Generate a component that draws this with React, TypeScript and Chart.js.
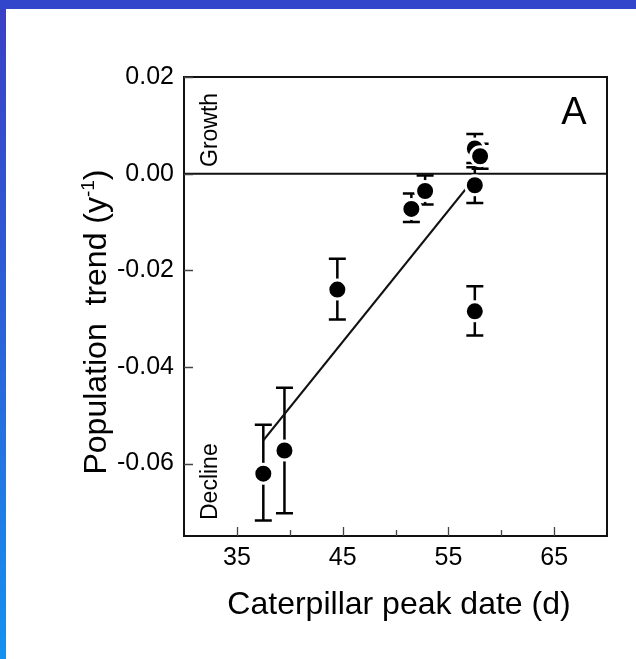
import { useEffect, useRef } from "react";
import { Chart, registerables } from "chart.js";

Chart.register(...registerables);

// ---- data ----
const peakDates = [37.5, 39.5, 44.5, 51.5, 52.8, 57.5, 57.5, 58.0, 57.5];
const trends = [-0.0621, -0.0573, -0.024, -0.0073, -0.0036, -0.0024, 0.0052, 0.0036, -0.0285];
const trendHigh = [-0.052, -0.0443, -0.0176, -0.0041, -0.0004, 0.0013, 0.0082, 0.0062, -0.0233];
const trendLow = [-0.0718, -0.0703, -0.0302, -0.01, -0.0064, -0.0061, 0.0022, 0.001, -0.0335];
const fitDates = [37.5, 57.7];
const fitTrends = [-0.0552, -0.0003];
const xMajorTicks = [35, 45, 55, 65];
const xMinorTicks = [40, 50, 60];
const yTicks = [0.02, 0, -0.02, -0.04, -0.06];
const xRange = [30, 70];
const yRange = [-0.075, 0.02];
const xTitle = "Caterpillar peak date (d)";
const yTitleMain = "Population  trend (y";
const yTitleSup = "-1";
const yTitleEnd = ")";
const upperNote = "Growth";
const lowerNote = "Decline";
const panelLetter = "A";

const FONT = "Arial, 'Liberation Sans', sans-serif";

const decor = {
  id: "decor",
  beforeDraw(chart: any) {
    const { ctx, width, height } = chart;
    ctx.save();
    const g = ctx.createLinearGradient(0, 0, 0, height);
    g.addColorStop(0, "#3a3fc4");
    g.addColorStop(0.5, "#2b62d8");
    g.addColorStop(1, "#1592f0");
    ctx.fillStyle = g;
    ctx.fillRect(0, 0, width, height);
    ctx.fillStyle = "#3246cb";
    ctx.fillRect(0, 0, width, 9);
    ctx.fillStyle = "#ffffff";
    ctx.fillRect(6, 9, width - 6, height - 9);
    ctx.restore();
  },
  beforeDatasetsDraw(chart: any) {
    const { ctx, chartArea: a, scales } = chart;
    const x = scales.x;
    const y = scales.y;
    ctx.save();
    ctx.strokeStyle = "#111";
    ctx.lineWidth = 2;
    const y0 = y.getPixelForValue(0);
    ctx.beginPath();
    ctx.moveTo(a.left, y0);
    ctx.lineTo(a.right, y0);
    ctx.stroke();
    ctx.lineWidth = 2.5;
    ctx.strokeStyle = "#000";
    for (let i = 0; i < peakDates.length; i++) {
      const px = x.getPixelForValue(peakDates[i]);
      const ph = y.getPixelForValue(trendHigh[i]);
      const pl = y.getPixelForValue(trendLow[i]);
      ctx.beginPath();
      ctx.moveTo(px, ph);
      ctx.lineTo(px, pl);
      ctx.moveTo(px - 8.5, ph);
      ctx.lineTo(px + 8.5, ph);
      ctx.moveTo(px - 8.5, pl);
      ctx.lineTo(px + 8.5, pl);
      ctx.stroke();
    }
    ctx.restore();
  },
  afterDraw(chart: any) {
    const { ctx, chartArea: a, scales } = chart;
    const x = scales.x;
    const y = scales.y;
    ctx.save();
    // box
    ctx.strokeStyle = "#111";
    ctx.lineWidth = 2;
    ctx.strokeRect(a.left, a.top, a.right - a.left, a.bottom - a.top);
    // inward ticks
    ctx.lineWidth = 1.3;
    ctx.strokeStyle = "#444";
    ctx.beginPath();
    for (const v of xMajorTicks) {
      const px = Math.round(x.getPixelForValue(v)) + 0.5;
      ctx.moveTo(px, a.bottom);
      ctx.lineTo(px, a.bottom - 9);
    }
    for (const v of xMinorTicks) {
      const px = Math.round(x.getPixelForValue(v)) + 0.5;
      ctx.moveTo(px, a.bottom);
      ctx.lineTo(px, a.bottom - 6);
    }
    for (const v of yTicks) {
      const py = Math.round(y.getPixelForValue(v)) + 0.5;
      ctx.moveTo(a.left, py);
      ctx.lineTo(a.left + 9, py);
    }
    ctx.stroke();

    ctx.fillStyle = "#000";
    // x title
    ctx.font = `32px ${FONT}`;
    ctx.textAlign = "center";
    ctx.textBaseline = "alphabetic";
    ctx.fillText(xTitle, 399, 614);

    // panel letter
    ctx.font = `38px ${FONT}`;
    ctx.fillText(panelLetter, 574, 123.5);

    // y title (rotated, with superscript)
    ctx.save();
    ctx.translate(106, 322);
    ctx.rotate(-Math.PI / 2);
    ctx.textAlign = "left";
    ctx.font = `32px ${FONT}`;
    const w1 = ctx.measureText(yTitleMain).width;
    const w3 = ctx.measureText(yTitleEnd).width;
    ctx.font = `19px ${FONT}`;
    const w2 = ctx.measureText(yTitleSup).width;
    const x0 = -(w1 + w2 + w3) / 2;
    ctx.font = `32px ${FONT}`;
    ctx.fillText(yTitleMain, x0, 0);
    ctx.font = `19px ${FONT}`;
    ctx.fillText(yTitleSup, x0 + w1, -12);
    ctx.font = `32px ${FONT}`;
    ctx.fillText(yTitleEnd, x0 + w1 + w2, 0);
    ctx.restore();

    // notes
    ctx.font = `23px ${FONT}`;
    ctx.textAlign = "left";
    ctx.save();
    ctx.translate(217, 167);
    ctx.rotate(-Math.PI / 2);
    ctx.fillText(upperNote, 0, 0);
    ctx.restore();
    ctx.save();
    ctx.translate(217, 520);
    ctx.rotate(-Math.PI / 2);
    ctx.fillText(lowerNote, 0, 0);
    ctx.restore();

    ctx.restore();
  },
};

export default function App() {
  const ref = useRef<HTMLCanvasElement | null>(null);
  useEffect(() => {
    if (!ref.current) return;
    const chart = new Chart(ref.current, {
      type: "scatter",
      data: {
        datasets: [
          {
            type: "scatter",
            data: peakDates.map((d, i) => ({ x: d, y: trends[i] })),
            pointRadius: 9.5,
            pointHoverRadius: 9.5,
            pointBackgroundColor: "#000",
            pointBorderColor: "#fff",
            pointBorderWidth: 3,
            order: 1,
          },
          {
            type: "line",
            data: fitDates.map((d, i) => ({ x: d, y: fitTrends[i] })),
            borderColor: "#111",
            borderWidth: 2.2,
            pointRadius: 0,
            fill: false,
            order: 2,
          } as any,
        ],
      },
      options: {
        animation: false,
        responsive: false,
        devicePixelRatio: 1,
        layout: { padding: { top: 77, right: 29, left: 0, bottom: 0 } },
        plugins: { legend: { display: false }, tooltip: { enabled: false } },
        scales: {
          x: {
            type: "linear",
            min: xRange[0],
            max: xRange[1],
            grid: { display: false, drawTicks: false },
            border: { display: false },
            afterBuildTicks: (s: any) => {
              s.ticks = xMajorTicks.map((v) => ({ value: v }));
            },
            afterFit: (s: any) => {
              s.height = 123;
            },
            ticks: {
              font: { family: FONT, size: 25 },
              color: "#000",
              padding: 7,
              maxRotation: 0,
              autoSkip: false,
            },
          },
          y: {
            type: "linear",
            min: yRange[0],
            max: yRange[1],
            grid: { display: false, drawTicks: false },
            border: { display: false },
            afterBuildTicks: (s: any) => {
              s.ticks = yTicks.map((v) => ({ value: v }));
            },
            afterFit: (s: any) => {
              s.width = 184;
            },
            ticks: {
              font: { family: FONT, size: 25 },
              color: "#000",
              padding: 10,
              autoSkip: false,
              callback: (v: any) => Number(v).toFixed(2),
            },
          },
        },
      },
      plugins: [decor],
    });
    return () => chart.destroy();
  }, []);
  return (
    <div style={{ position: "fixed", left: 0, top: 0, width: 636, height: 659 }}>
      <canvas ref={ref} width={636} height={659} style={{ display: "block", width: 636, height: 659 }} />
    </div>
  );
}
